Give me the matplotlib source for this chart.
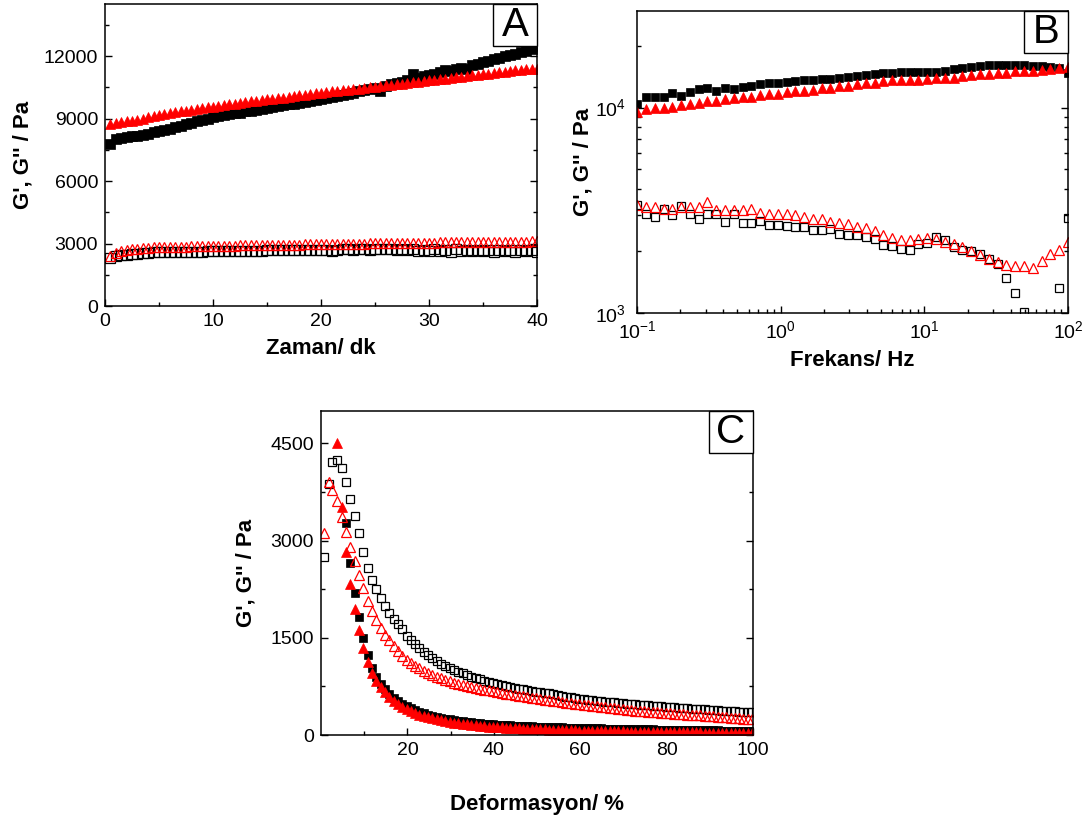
import matplotlib
matplotlib.use('Agg')
import matplotlib.pyplot as plt
import numpy as np
from matplotlib.ticker import MultipleLocator, LogLocator, NullFormatter, FixedLocator
from matplotlib.patches import Rectangle

plt.rcParams['font.family'] = ['Liberation Sans', 'DejaVu Sans']
plt.rcParams['mathtext.fontset'] = 'custom'
plt.rcParams['mathtext.rm'] = 'Liberation Sans'
plt.rcParams['mathtext.it'] = 'Liberation Sans:italic'
plt.rcParams['mathtext.bf'] = 'Liberation Sans:bold'
plt.rcParams['axes.linewidth'] = 1.1

# ---------------- Panel A: time sweep ----------------
A_time = [0.5, 1.0, 1.5, 2.0, 2.5, 3.0, 3.5, 4.0, 4.5, 5.0,
          5.5, 6.0, 6.5, 7.0, 7.5, 8.0, 8.5, 9.0, 9.5, 10.0,
          10.5, 11.0, 11.5, 12.0, 12.5, 13.0, 13.5, 14.0, 14.5, 15.0,
          15.5, 16.0, 16.5, 17.0, 17.5, 18.0, 18.5, 19.0, 19.5, 20.0,
          20.5, 21.0, 21.5, 22.0, 22.5, 23.0, 23.5, 24.0, 24.5, 25.0,
          25.5, 26.0, 26.5, 27.0, 27.5, 28.0, 28.5, 29.0, 29.5, 30.0,
          30.5, 31.0, 31.5, 32.0, 32.5, 33.0, 33.5, 34.0, 34.5, 35.0,
          35.5, 36.0, 36.5, 37.0, 37.5, 38.0, 38.5, 39.0, 39.5, 40.0]
A_G1p = [7800, 8020, 8060, 8100, 8140, 8180, 8230, 8280, 8340, 8400,
         8460, 8520, 8590, 8650, 8720, 8790, 8860, 8930, 9000, 9070,
         9110, 9160, 9200, 9250, 9290, 9340, 9380, 9430, 9470, 9520,
         9560, 9600, 9640, 9680, 9720, 9760, 9800, 9840, 9880, 9920,
         9980, 10030, 10090, 10140, 10200, 10250, 10310, 10360, 10420, 10470,
         10330, 10580, 10640, 10700, 10760, 10830, 11150, 10950, 11020, 11100,
         11160, 11230, 11350, 11300, 11370, 11420, 11400, 11560, 11620, 11700,
         11780, 11850, 11900, 11980, 12060, 12100, 12200, 12250, 12330, 12480]
A_G2p = [8750, 8780, 8820, 8860, 8900, 8950, 9000, 9060, 9120, 9180,
         9220, 9260, 9300, 9340, 9380, 9420, 9460, 9500, 9540, 9570,
         9610, 9640, 9680, 9710, 9750, 9780, 9820, 9850, 9890, 9920,
         9950, 9980, 10010, 10050, 10080, 10110, 10140, 10170, 10210, 10240,
         10270, 10300, 10330, 10360, 10390, 10410, 10440, 10470, 10500, 10530,
         10560, 10590, 10620, 10650, 10680, 10710, 10740, 10770, 10800, 10830,
         10860, 10890, 10920, 10950, 10980, 11010, 11040, 11070, 11100, 11130,
         11160, 11190, 11220, 11250, 11280, 11310, 11340, 11360, 11380, 11400]
A_G1pp = [2300, 2380, 2430, 2470, 2500, 2520, 2540, 2555, 2570, 2580,
          2590, 2595, 2600, 2600, 2605, 2610, 2610, 2615, 2620, 2620,
          2625, 2630, 2630, 2640, 2645, 2650, 2650, 2660, 2660, 2670,
          2670, 2680, 2680, 2690, 2690, 2700, 2700, 2700, 2710, 2710,
          2700, 2640, 2710, 2720, 2720, 2700, 2720, 2730, 2700, 2730,
          2740, 2720, 2740, 2700, 2740, 2690, 2720, 2640, 2700, 2630,
          2720, 2650, 2700, 2610, 2720, 2640, 2690, 2620, 2700, 2630,
          2710, 2600, 2690, 2620, 2700, 2600, 2680, 2620, 2700, 2600]
A_G2pp = [2420, 2560, 2640, 2690, 2730, 2760, 2780, 2800, 2810, 2820,
          2830, 2840, 2845, 2850, 2855, 2860, 2865, 2870, 2875, 2880,
          2885, 2890, 2895, 2900, 2905, 2910, 2915, 2920, 2925, 2930,
          2935, 2940, 2942, 2945, 2948, 2950, 2953, 2955, 2958, 2960,
          2965, 2970, 2975, 2980, 2985, 2990, 2995, 3000, 3005, 3010,
          3013, 3016, 3020, 3024, 3028, 3031, 3034, 3037, 3040, 3043,
          3046, 3049, 3052, 3055, 3058, 3060, 3063, 3066, 3068, 3070,
          3073, 3076, 3078, 3080, 3083, 3086, 3090, 3094, 3097, 3100]

# ---------------- Panel B: frequency sweep ----------------
B_freq = [0.1, 0.115, 0.133, 0.153, 0.176, 0.202, 0.233, 0.268, 0.309, 0.356,
          0.409, 0.471, 0.543, 0.625, 0.720, 0.829, 0.954, 1.10, 1.26, 1.46,
          1.68, 1.93, 2.22, 2.56, 2.95, 3.39, 3.91, 4.50, 5.18, 5.96,
          6.87, 7.91, 9.10, 10.5, 12.1, 13.9, 16.0, 18.4, 21.2, 24.4,
          28.1, 32.4, 37.3, 42.9, 49.4, 56.9, 65.5, 75.4, 86.9, 100.0]
B_G1p = [10400, 11300, 11200, 11300, 11800, 11400, 11900, 12300, 12400, 12000,
         12500, 12300, 12600, 12700, 13000, 13100, 13200, 13300, 13400, 13600,
         13600, 13700, 13700, 14000, 14100, 14200, 14400, 14600, 14700, 14800,
         14900, 14900, 14900, 14900, 14900, 15100, 15400, 15600, 15800, 15900,
         16100, 16100, 16100, 16100, 16100, 15900, 15900, 15800, 15600, 14800]
B_G2p = [9460, 9800, 9900, 10000, 10100, 10300, 10400, 10500, 10700, 10800,
         11000, 11100, 11200, 11300, 11500, 11600, 11700, 11900, 12000, 12100,
         12200, 12400, 12500, 12700, 12800, 13000, 13100, 13200, 13500, 13600,
         13600, 13600, 13600, 13700, 13900, 13900, 14000, 14200, 14400, 14500,
         14600, 14700, 14800, 15000, 15100, 15100, 15200, 15400, 15500, 15700]
B_G1pp = [3365, 3035, 2945, 3206, 2995, 3303, 3035, 2870, 3035, 3035,
          2785, 3035, 2735, 2735, 2818, 2685, 2685, 2645, 2613, 2613,
          2546, 2540, 2555, 2426, 2400, 2385, 2340, 2300, 2148, 2117,
          2051, 2030, 2155, 2185, 2340, 2257, 2093, 2030, 2000, 1930,
          1835, 1735, 1479, 1250, 1010, 800, 650, 700, 1328, 2890]
B_G2pp = [3365, 3273, 3290, 3206, 3206, 3273, 3273, 3273, 3484, 3177,
          3177, 3177, 3177, 3206, 3058, 3035, 3035, 3035, 3015, 2945,
          2870, 2870, 2785, 2735, 2700, 2635, 2590, 2520, 2385, 2320,
          2270, 2270, 2300, 2320, 2300, 2220, 2175, 2093, 2000, 1905,
          1835, 1765, 1710, 1690, 1695, 1648, 1794, 1933, 2020, 2220]

# ---------------- Panel C: strain sweep ----------------
C_strain = [0.8, 1.8, 2.6, 3.7, 4.8, 5.8, 6.8, 7.9, 8.9, 9.8,
            10.8, 11.8, 12.8, 13.8, 14.8, 15.8, 16.8, 17.8, 18.8, 19.8,
            20.8, 21.8, 22.8, 23.8, 24.8, 25.8, 26.8, 27.8, 28.8, 29.8,
            30.8, 31.8, 32.8, 33.8, 34.8, 35.8, 36.8, 37.8, 38.8, 39.8,
            40.8, 41.8, 42.8, 43.8, 44.8, 45.8, 46.8, 47.8, 48.8, 49.8,
            50.8, 51.8, 52.8, 53.8, 54.8, 55.8, 56.8, 57.8, 58.8, 59.8,
            60.8, 61.8, 62.8, 63.8, 64.8, 65.8, 66.8, 67.8, 68.8, 69.8,
            70.8, 71.8, 72.8, 73.8, 74.8, 75.8, 76.8, 77.8, 78.8, 79.8,
            80.8, 81.8, 82.8, 83.8, 84.8, 85.8, 86.8, 87.8, 88.8, 89.8,
            90.8, 91.8, 92.8, 93.8, 94.8, 95.8, 96.8, 97.8, 98.8, 99.8]
nan = float('nan')
C_G1p = [nan, nan, nan, nan, nan, 3265, 2650, 2185, 1815, 1490,
         1235, 1035, 890, 790, 705, 635, 575, 525, 482, 445,
         412, 383, 357, 334, 314, 296, 280, 266, 253, 241,
         230, 220, 211, 203, 196, 189, 183, 177, 172, 167,
         162, 158, 154, 150, 146, 143, 140, 137, 134, 131,
         128, 126, 123, 121, 119, 117, 115, 113, 111, 109,
         107, 105, 104, 102, 101, 99, 98, 96, 95, 94,
         92, 91, 90, 89, 88, 86, 85, 84, 83, 82,
         81, 80, 79, 78, 77, 76, 75, 74, 73, 72,
         71, 70, 69, 68, 67, 66, 65, 64, 63, 62]
C_G2p = [nan, nan, nan, 4500, 3520, 2825, 2330, 1940, 1620, 1350,
         1130, 960, 835, 740, 660, 590, 530, 480, 437, 400,
         368, 340, 315, 293, 273, 256, 240, 226, 213, 201,
         190, 180, 171, 163, 155, 148, 142, 136, 130, 125,
         120, 116, 112, 108, 104, 101, 98, 95, 92, 89,
         87, 85, 82, 80, 78, 76, 74, 72, 70, 69,
         67, 66, 64, 63, 61, 60, 59, 58, 56, 55,
         54, 53, 52, 51, 50, 49, 48, 47, 46, 45,
         44, 43.5, 43, 42, 41, 40, 39.5, 39, 38, 37,
         36.5, 36, 35, 34.5, 34, 33, 32.5, 32, 31, 30]
C_G1pp = [2750, 3880, 4220, 4250, 4115, 3900, 3640, 3380, 3110, 2830,
          2580, 2390, 2250, 2110, 1990, 1890, 1785, 1710, 1630, 1530,
          1460, 1405, 1345, 1285, 1230, 1190, 1140, 1100, 1070, 1035,
          1005, 975, 950, 925, 900, 880, 860, 840, 820, 800,
          785, 770, 755, 740, 728, 715, 703, 692, 681, 671,
          661, 651, 641, 631, 621, 605, 594, 583, 572, 562,
          554, 546, 538, 530, 523, 516, 510, 504, 498, 492,
          486, 480, 474, 468, 462, 456, 451, 446, 441, 436,
          431, 426, 421, 416, 411, 406, 402, 398, 394, 390,
          386, 382, 378, 374, 370, 366, 362, 358, 354, 350]
C_G2pp = [3110, 3900, 3780, 3610, 3370, 3130, 2900, 2690, 2470, 2265,
          2070, 1920, 1770, 1655, 1550, 1460, 1370, 1295, 1225, 1165,
          1115, 1070, 1030, 993, 958, 927, 898, 872, 848, 826,
          806, 788, 771, 756, 741, 727, 713, 700, 687, 675,
          663, 651, 640, 629, 618, 607, 596, 585, 574, 564,
          554, 545, 536, 527, 518, 509, 500, 491, 482, 474,
          466, 458, 450, 442, 434, 426, 418, 410, 402, 395,
          388, 382, 376, 370, 364, 358, 353, 348, 343, 338,
          333, 328, 323, 318, 314, 310, 306, 302, 298, 294,
          289, 284, 279, 274, 269, 264, 259, 254, 249, 244]

YLABEL = "G', G'' / Pa"

W, H = 1091, 821
fig = plt.figure(figsize=(W / 100, H / 100), dpi=100)
fig.patch.set_facecolor('white')


def rect(l, t, r, b):
    return [l / W, (H - b) / H, (r - l) / W, (b - t) / H]


axA = fig.add_axes(rect(105, 4, 537, 306))
axB = fig.add_axes(rect(637, 11, 1068, 313))
axC = fig.add_axes(rect(321, 411, 753, 735))


def style(ax, ypad=5):
    ax.tick_params(which='both', direction='in', right=True, top=False,
                   labelsize=14, width=1.0, colors='black')
    ax.tick_params(which='major', length=5)
    ax.tick_params(axis='x', which='major', pad=5)
    ax.tick_params(axis='y', which='major', pad=ypad)
    ax.tick_params(which='minor', length=3)


def panel_label(ax, s, wpx=44, hpx=42):
    pos = ax.get_position()
    w = wpx / (pos.width * W)
    h = hpx / (pos.height * H)
    ax.add_patch(Rectangle((1 - w, 1 - h), w, h, transform=ax.transAxes,
                           fc='white', ec='black', lw=1.0, zorder=5, clip_on=False))
    ax.text(1 - w / 2, 1 - h / 2, s, transform=ax.transAxes, ha='center',
            va='center', fontsize=29, zorder=6)


def plot_four(ax, x, g1p, g1pp, g2p, g2pp, ms_s, ms_t):
    ax.plot(x, g1p, 's', color='black', ms=ms_s, mew=0.5, ls='none')
    ax.plot(x, g1pp, 's', mfc='none', mec='black', ms=ms_s, mew=0.9, ls='none')
    ax.plot(x, g2p, '^', color='red', ms=ms_t, mew=0.5, ls='none')
    ax.plot(x, g2pp, '^', mfc='none', mec='red', ms=ms_t, mew=0.9, ls='none')


# Panel A
plot_four(axA, A_time, A_G1p, A_G1pp, A_G2p, A_G2pp, 6.8, 7.2)
axA.set_xlim(0, 40)
axA.set_ylim(0, 14500)
axA.xaxis.set_major_locator(MultipleLocator(10))
axA.xaxis.set_minor_locator(MultipleLocator(5))
axA.yaxis.set_major_locator(MultipleLocator(3000))
axA.yaxis.set_minor_locator(MultipleLocator(1500))
style(axA)
axA.set_xlabel('Zaman/ dk', fontsize=16, fontweight='bold', labelpad=6)
axA.set_ylabel(YLABEL, fontsize=16, fontweight='bold', labelpad=7)
panel_label(axA, 'A')

# Panel B
plot_four(axB, B_freq, B_G1p, B_G1pp, B_G2p, B_G2pp, 5.4, 7.0)
axB.set_xscale('log')
axB.set_yscale('log')
axB.set_xlim(0.1, 100)
axB.set_ylim(1000, 29500)
axB.xaxis.set_major_locator(LogLocator(base=10, numticks=10))
axB.xaxis.set_minor_locator(LogLocator(base=10, subs=np.arange(2, 10), numticks=20))
axB.yaxis.set_major_locator(LogLocator(base=10, numticks=10))
axB.yaxis.set_minor_locator(LogLocator(base=10, subs=np.arange(2, 10), numticks=20))
axB.xaxis.set_minor_formatter(NullFormatter())
axB.yaxis.set_minor_formatter(NullFormatter())
style(axB, ypad=8)
axB.set_xlabel('Frekans/ Hz', fontsize=16, fontweight='bold', labelpad=6)
axB.set_ylabel(YLABEL, fontsize=16, fontweight='bold', labelpad=1)
panel_label(axB, 'B')

# Panel C
plot_four(axC, C_strain, C_G1p, C_G1pp, C_G2p, C_G2pp, 5.6, 6.8)
axC.set_xlim(0, 100)
axC.set_ylim(0, 5000)
axC.xaxis.set_major_locator(FixedLocator([20, 40, 60, 80, 100]))
axC.xaxis.set_minor_locator(FixedLocator([10, 30, 50, 70, 90]))
axC.yaxis.set_major_locator(MultipleLocator(1500))
axC.yaxis.set_minor_locator(MultipleLocator(750))
style(axC)
axC.set_xlabel('Deformasyon/ %', fontsize=16, fontweight='bold', labelpad=25)
axC.set_ylabel(YLABEL, fontsize=16, fontweight='bold', labelpad=10)
panel_label(axC, 'C')

fig.savefig('out.png', dpi=100, facecolor='white')
